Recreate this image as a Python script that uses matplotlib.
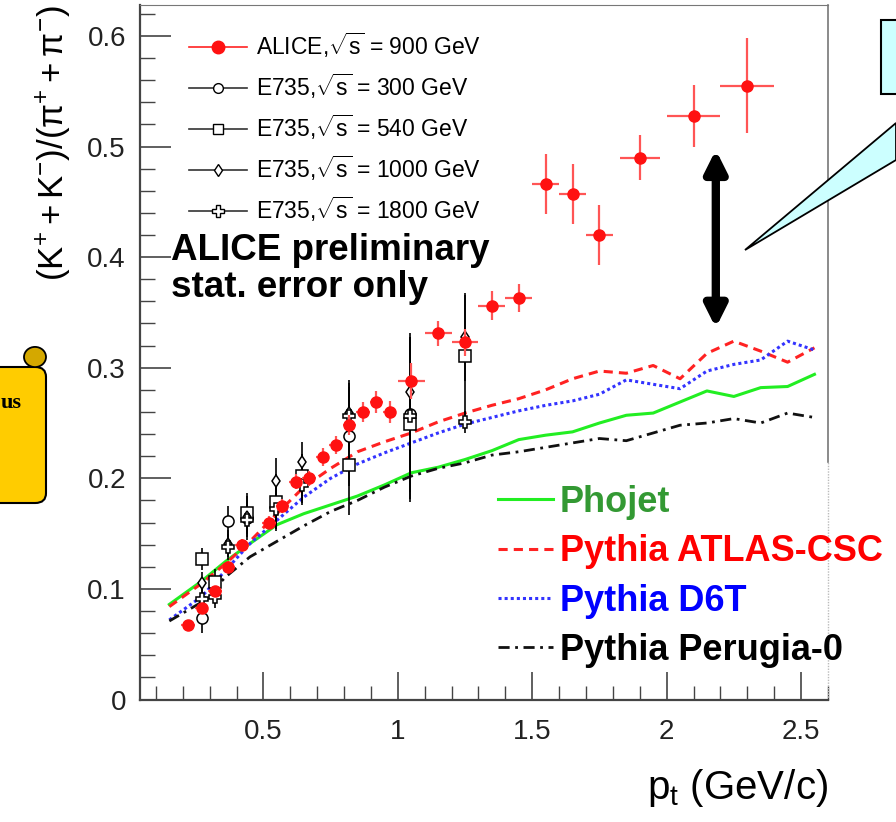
import matplotlib
matplotlib.use("Agg")
import matplotlib.pyplot as plt
from matplotlib.lines import Line2D
from matplotlib.patches import Polygon, Rectangle, Circle, FancyBboxPatch
from matplotlib.ticker import MultipleLocator, FuncFormatter

plt.rcParams['font.family'] = ['Liberation Sans', 'DejaVu Sans']
plt.rcParams['mathtext.fontset'] = 'custom'
plt.rcParams['mathtext.rm'] = 'Liberation Sans'
plt.rcParams['mathtext.it'] = 'Liberation Sans:italic'

# ALICE 900 GeV data
alice_pt = [0.22, 0.27, 0.32, 0.37, 0.42, 0.52, 0.57, 0.62, 0.67, 0.72, 0.77, 0.82, 0.87,
            0.92, 0.97, 1.05, 1.15, 1.25, 1.35, 1.45, 1.55, 1.65, 1.75, 1.9, 2.1, 2.3]
alice_ratio = [0.067, 0.083, 0.098, 0.120, 0.140, 0.160, 0.175, 0.197, 0.200, 0.219, 0.230,
               0.248, 0.260, 0.269, 0.260, 0.288, 0.331, 0.323, 0.356, 0.363, 0.466, 0.457,
               0.420, 0.490, 0.528, 0.555]
alice_xerr = [0.025] * 15 + [0.05] * 8 + [0.075, 0.1, 0.1]
alice_yerr = [0.004, 0.004, 0.005, 0.005, 0.005, 0.006, 0.006, 0.007, 0.007, 0.008, 0.008,
              0.009, 0.009, 0.010, 0.010, 0.016, 0.011, 0.012, 0.013, 0.013, 0.027, 0.027,
              0.027, 0.020, 0.028, 0.043]

# E735 data
e300_pt = [0.27, 0.37, 0.44, 0.545, 0.645, 0.82, 1.045]
e300 = [0.074, 0.161, 0.164, 0.179, 0.200, 0.238, 0.258]
e300_err = [0.014, 0.014, 0.020, 0.025, 0.022, 0.045, 0.070]

e540_pt = [0.27, 0.32, 0.44, 0.545, 0.645, 0.82, 1.045, 1.25]
e540 = [0.127, 0.106, 0.169, 0.179, 0.202, 0.212, 0.249, 0.311]
e540_err = [0.010, 0.012, 0.018, 0.025, 0.020, 0.045, 0.070, 0.055]

e1000_pt = [0.27, 0.32, 0.37, 0.44, 0.545, 0.645, 0.82, 1.045, 1.25]
e1000 = [0.105, 0.096, 0.141, 0.165, 0.198, 0.215, 0.259, 0.278, 0.328]
e1000_err = [0.010, 0.010, 0.012, 0.015, 0.020, 0.018, 0.030, 0.050, 0.040]

e1800_pt = [0.27, 0.32, 0.37, 0.44, 0.545, 0.645, 0.82, 1.045, 1.25]
e1800 = [0.091, 0.093, 0.138, 0.162, 0.172, 0.194, 0.256, 0.256, 0.251]
e1800_err = [0.010, 0.010, 0.012, 0.015, 0.020, 0.018, 0.030, 0.075, 0.010]

# model curves
mc_pt = [0.15, 0.27, 0.36, 0.45, 0.55, 0.65, 0.75, 0.85, 0.95, 1.05, 1.15, 1.25, 1.35,
         1.45, 1.55, 1.65, 1.75, 1.85, 1.95, 2.05, 2.15, 2.25, 2.35, 2.45, 2.55]
phojet = [0.086, 0.107, 0.125, 0.141, 0.158, 0.168, 0.176, 0.184, 0.194, 0.205, 0.210, 0.217,
          0.225, 0.235, 0.239, 0.242, 0.250, 0.257, 0.259, 0.269, 0.279, 0.274, 0.282, 0.283, 0.294]
atlas = [0.084, 0.105, 0.123, 0.143, 0.168, 0.192, 0.209, 0.224, 0.233, 0.241, 0.251, 0.259,
         0.266, 0.272, 0.280, 0.290, 0.297, 0.295, 0.302, 0.290, 0.313, 0.324, 0.315, 0.305, 0.318]
d6t = [0.072, 0.093, 0.117, 0.141, 0.162, 0.183, 0.200, 0.213, 0.223, 0.232, 0.241, 0.249,
       0.255, 0.261, 0.266, 0.270, 0.276, 0.289, 0.285, 0.281, 0.297, 0.303, 0.307, 0.324, 0.316]
perugia = [0.071, 0.088, 0.111, 0.129, 0.143, 0.157, 0.170, 0.180, 0.192, 0.202, 0.209, 0.214,
           0.221, 0.224, 0.228, 0.232, 0.236, 0.234, 0.241, 0.248, 0.250, 0.254, 0.250, 0.259, 0.255]

fig = plt.figure(figsize=(8.96, 8.22), dpi=100)
ax = fig.add_axes([0.156, 0.149, 0.768, 0.845])

# models
ax.plot(mc_pt, phojet, color='#22ee22', lw=2.2, ls='-')
ax.plot(mc_pt, atlas, color='#ff2222', lw=2.2, ls=(0, (3, 2)))
ax.plot(mc_pt, d6t, color='#3333ff', lw=2.2, ls=(0, (1, 1)))
ax.plot(mc_pt, perugia, color='#111111', lw=2.0, ls=(0, (4, 2, 1, 2)))

# E735
ekw = dict(ls='none', color='black', ecolor='black', elinewidth=1.2, mfc='white',
           mec='black', mew=1.1, zorder=4)
ax.errorbar(e300_pt, e300, yerr=e300_err, marker='o', ms=8, **ekw)
ax.errorbar(e540_pt, e540, yerr=e540_err, marker='s', ms=8, **ekw)
ax.errorbar(e1000_pt, e1000, yerr=e1000_err, marker='d', ms=6, **ekw)
ax.errorbar(e1800_pt, e1800, yerr=e1800_err, marker='P', ms=8, **ekw)

# ALICE
ax.errorbar(alice_pt, alice_ratio, xerr=alice_xerr, yerr=alice_yerr, ls='none', marker='o',
            ms=8, color='#ff1111', ecolor='#ff5555', elinewidth=1.6, zorder=5)

ax.set_xlim(0.04, 2.6)
ax.set_ylim(0, 0.628)
ax.xaxis.set_major_locator(MultipleLocator(0.5))
ax.xaxis.set_minor_locator(MultipleLocator(0.1))
ax.yaxis.set_major_locator(MultipleLocator(0.1))
ax.yaxis.set_minor_locator(MultipleLocator(0.02))
fmt = FuncFormatter(lambda v, p: '%g' % round(v, 3))
ax.xaxis.set_major_formatter(fmt)
ax.yaxis.set_major_formatter(fmt)
ax.tick_params(which='both', direction='in', top=False, right=False, labelsize=20,
               labelcolor='#222222', color='#444444')
ax.tick_params(axis='y', which='major', length=22, width=1.2, pad=10)
ax.tick_params(axis='y', which='minor', length=11, width=1.0)
ax.tick_params(axis='x', which='major', length=20, width=1.2, pad=14)
ax.tick_params(axis='x', which='minor', length=10, width=1.0)
for s in ['left', 'bottom']:
    ax.spines[s].set_color('#444444')
    ax.spines[s].set_linewidth(1.6)
ax.spines['top'].set_color('#777777')
ax.spines['right'].set_visible(False)
ax.plot([1, 1], [0.342, 1], transform=ax.transAxes, color='#777777', lw=1.2, clip_on=False)
ax.plot([1, 1], [0, 0.342], transform=ax.transAxes, color='#bbbbbb', lw=1.0,
        ls=(0, (1, 1)), clip_on=False)

ax.set_ylabel('$(\\mathrm{K^{+}+K^{-}})/(\\mathrm{π^{+}+π^{-}})$', fontsize=25,
              loc='top', labelpad=10)
ax.set_xlabel('$\\mathrm{p_{t}}$ (GeV/c)', fontsize=29, loc='right', labelpad=16)

# upper legend
h1 = [
    Line2D([], [], color='#ff2222', lw=1.2, marker='o', ms=9, mfc='#ff1111', mec='#ff1111'),
    Line2D([], [], color='#333333', lw=1.2, marker='o', ms=7, mfc='white', mec='black'),
    Line2D([], [], color='#333333', lw=1.2, marker='s', ms=7, mfc='white', mec='black'),
    Line2D([], [], color='#333333', lw=1.2, marker='d', ms=6, mfc='white', mec='black'),
    Line2D([], [], color='#333333', lw=1.2, marker='P', ms=8, mfc='white', mec='black'),
]
l1 = ['ALICE,$\\sqrt{\\mathrm{s}}$ = 900 GeV', 'E735,$\\sqrt{\\mathrm{s}}$ = 300 GeV',
      'E735,$\\sqrt{\\mathrm{s}}$ = 540 GeV', 'E735,$\\sqrt{\\mathrm{s}}$ = 1000 GeV',
      'E735,$\\sqrt{\\mathrm{s}}$ = 1800 GeV']
leg1 = ax.legend(h1, l1, loc='upper left', bbox_to_anchor=(0.042, 0.992), frameon=False,
                 fontsize=16.5, handlelength=2.5, handletextpad=0.4, labelspacing=0.5)
ax.add_artist(leg1)

ax.text(0.045, 0.672, 'ALICE preliminary\nstat. error only', transform=ax.transAxes,
        fontsize=26.5, fontweight='bold', va='top', ha='left', linespacing=1.1)

# lower legend
h2 = [Line2D([], [], color='#22ee22', lw=2.2),
      Line2D([], [], color='#ff2222', lw=2.2, ls=(0, (3, 2))),
      Line2D([], [], color='#3333ff', lw=2.2, ls=(0, (1, 1))),
      Line2D([], [], color='#111111', lw=2.0, ls=(0, (4, 2, 1, 2)))]
l2 = ['Phojet', 'Pythia ATLAS-CSC', 'Pythia D6T', 'Pythia Perugia-0']
leg2 = ax.legend(h2, l2, loc='upper left', bbox_to_anchor=(0.474, 0.356), frameon=False,
                 prop={'size': 26, 'weight': 'bold'}, handlelength=1.5, handletextpad=0.2,
                 labelspacing=0.4, labelcolor=['#339933', '#ff0000', '#0000ff', '#000000'])

# double arrow
ax.annotate('', xy=(2.183, 0.497), xytext=(2.183, 0.336),
            arrowprops=dict(arrowstyle='<|-|>', color='black', lw=6, mutation_scale=32,
                            shrinkA=0, shrinkB=0))

# callout at the top right
W, H = 896.0, 822.0
fig.add_artist(Polygon([(745 / W, 1 - 250 / H), (1.0, 1 - 123 / H), (1.0, 1 - 160 / H)],
                       closed=True, transform=fig.transFigure, fc='#ccffff', ec='black',
                       lw=1.3, zorder=6))
fig.add_artist(Rectangle((881 / W, 1 - 94 / H), 0.05, 74 / H, transform=fig.transFigure,
                         fc='#ccffff', ec='black', lw=1.5, zorder=6))

# scroll at the left
fig.add_artist(FancyBboxPatch((-0.05, 1 - 503 / H), 46 / W + 0.05, 136 / H,
                              boxstyle='round,pad=0,rounding_size=0.012',
                              transform=fig.transFigure, fc='#ffcc00', ec='black', lw=1.5,
                              zorder=6))
fig.add_artist(Circle((35 / W, 1 - 357 / H), 11 / W, transform=fig.transFigure,
                      fc='#d4a800', ec='black', lw=1.3, zorder=7))
fig.text(22 / W, 1 - 403 / H, 'us', fontsize=16, fontweight='bold', ha='right', va='center',
         family=['Liberation Serif', 'DejaVu Serif'], zorder=8)

fig.savefig('out.png', dpi=100)
